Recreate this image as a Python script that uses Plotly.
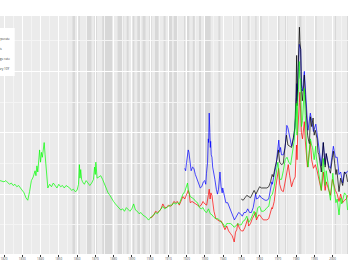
import plotly.graph_objects as go

# ---------------- data ----------------
treasury_years = [1817.8,1820,1821,1822,1823,1824,1825,1826,1827,1828,1829,1830,1831,1832,1833,1834,1835,1836,1837,1837.5,1838,1838.5,1839,1839.5,1840,1840.5,1841,1841.5,1842,1842.5,1843,1843.5,1844,1845,1846,1847,1848,1849,1850,1851,1852,1853,1854,1855,1856,1857,1858,1859,1860,1860.8,1861.3,1861.6,1862,1862.5,1863,1864,1865,1866,1867,1868,1869,1869.6,1870,1870.3,1870.8,1871,1872,1873,1874,1875,1876,1877,1878,1879,1880,1881,1882,1883,1884,1885,1886,1887,1888,1889,1890,1891,1892,1893,1894,1895,1896,1897,1898,1899,1900,1901,1902,1903,1904,1905,1906,1907,1908,1909,1910,1911,1912,1913,1914,1915,1916,1917,1918,1919,1920,1920.5,1921,1922,1923,1924,1925,1926,1927,1928,1929,1930,1931,1932,1933,1934,1935,1936,1937,1938,1939,1940,1941,1942,1943,1944,1945,1946,1947,1948,1949,1950,1951,1952,1953,1954,1955,1956,1957,1958,1959,1960,1961,1962,1963,1964,1965,1966,1967,1968,1969,1970,1971,1972,1973,1974,1975,1976,1977,1978,1979,1980.1,1980.5,1980.9,1981.3,1981.7,1982.0,1982.5,1982.9,1983.5,1984.5,1985,1986,1986.6,1987.8,1988.5,1989,1989.9,1990.7,1991,1992,1993.8,1994.9,1995.9,1996.5,1997,1998.8,1999.9,2000.1,2001,2001.8,2002.5,2003.5,2004.4,2005,2006.5,2007.5,2008.2]
treasury_vals = [6.1,6.0,6.1,5.9,5.8,5.9,5.7,5.8,5.6,5.7,5.5,5.4,5.1,4.7,4.5,5.2,6.1,6.4,6.9,6.5,7.3,6.8,8.0,8.6,7.6,8.4,8.0,8.8,9.2,8.2,7.0,6.0,5.5,5.8,5.6,5.9,5.7,5.5,5.8,5.6,5.7,5.5,5.7,5.6,5.5,5.3,5.4,5.2,5.3,5.8,7.4,6.3,7.0,6.2,6.0,5.8,6.1,5.9,5.7,5.9,6.2,7.2,6.6,7.6,6.7,6.3,6.4,6.5,6.2,5.8,5.4,5.1,4.9,4.6,4.4,4.2,4.0,3.8,3.7,3.8,3.6,3.9,3.7,3.6,3.8,4.2,3.7,3.6,3.4,3.5,3.3,3.2,3.1,2.9,3.0,3.2,3.3,3.5,3.4,3.6,3.8,4.0,3.8,3.9,4.0,4.1,4.1,4.3,4.2,4.3,4.2,4.6,5.0,5.2,5.7,5.9,5.3,4.8,4.7,4.6,4.4,4.3,3.9,3.8,3.9,3.6,3.5,3.8,3.4,3.3,3.1,3.0,3.0,2.9,2.7,2.6,2.3,2.6,2.6,2.6,2.5,2.3,2.4,2.6,2.5,2.5,2.8,2.9,3.2,2.7,2.9,3.2,3.6,3.1,3.9,4.0,3.6,3.6,3.7,3.9,4.0,4.8,5.0,5.6,6.7,7.6,6.2,6.2,6.9,7.8,8.0,7.6,7.4,8.4,9.4,12.4,9.8,12.8,13.5,15.8,14.5,14.3,10.5,11.0,13.6,11.4,7.8,7.2,9.5,9.0,8.8,7.8,8.9,8.1,7.0,5.3,7.9,5.7,6.9,6.4,4.5,6.3,6.7,5.2,4.3,4.6,3.3,4.7,4.2,5.1,4.9,3.7]

baa_years = [1919.0,1919.5,1920.0,1920.4,1920.9,1921.3,1921.9,1922.5,1923.3,1924.0,1924.8,1925.5,1926.5,1927.5,1928.3,1929.2,1929.9,1930.5,1930.9,1931.5,1931.9,1932.1,1932.4,1932.7,1933.0,1933.2,1933.5,1933.9,1934.3,1934.9,1935.5,1936.3,1936.9,1937.5,1937.9,1938.3,1938.9,1939.5,1939.8,1940.5,1941.5,1942.5,1943.5,1944.5,1945.5,1946.2,1947,1948.5,1949.5,1950.5,1951.5,1952.5,1953.5,1954.5,1955.5,1956.5,1957.8,1958.3,1959.5,1960.0,1961,1962,1963,1964,1965,1966.7,1967,1968,1968.5,1969,1969.9,1970.5,1971,1971.5,1972,1973,1974,1974.9,1975.5,1976,1976.9,1977.5,1978.5,1979.0,1979.8,1980.3,1980.5,1980.9,1981.2,1981.75,1982.0,1982.5,1982.9,1983.5,1984.5,1985,1985.9,1986.5,1987.8,1988.5,1989.5,1990.8,1991.5,1992.5,1993.8,1994.9,1995.9,1996.5,1997.9,1998.8,1999.9,2000.4,2001.5,2002.5,2003.5,2004.4,2005.5,2006.5,2007.5,2008.2]
baa_vals = [7.1,6.9,7.6,8.3,8.6,8.4,7.6,6.9,7.2,7.1,6.6,6.3,5.9,5.5,5.6,6.0,6.1,5.8,6.7,7.6,9.5,9.2,11.6,10.0,8.8,9.3,8.2,8.0,7.2,6.8,6.2,5.4,5.0,5.4,6.2,6.8,5.6,5.1,5.5,4.9,4.3,4.3,3.9,3.6,3.2,2.9,3.1,3.5,3.4,3.2,3.5,3.5,3.8,3.5,3.5,3.9,5.0,4.6,4.7,4.9,4.7,4.6,4.5,4.5,4.6,6.0,5.8,6.6,7.0,7.3,8.6,9.4,8.4,8.8,8.2,8.2,8.8,10.6,10.4,10.0,9.1,8.9,9.5,9.9,11.4,14.0,12.6,15.1,15.3,17.2,17.1,16.8,13.9,13.4,15.0,13.4,11.6,10.2,11.6,11.0,10.1,10.7,9.9,8.9,7.3,9.2,7.4,8.3,7.3,7.1,8.2,8.9,8.0,8.0,6.6,6.8,5.9,6.8,6.7,6.9]

muni_years = [1900,1901,1902,1903,1904,1905,1906,1907,1908,1909,1910,1911,1912,1913,1914,1915,1916,1917,1918,1919,1920,1920.9,1921.5,1922,1923,1924,1925,1926,1927,1928,1929,1930,1931,1931.9,1932.4,1932.9,1933.3,1933.9,1934.5,1935,1936,1937,1938,1939,1940,1941,1942,1943,1944,1945,1946.1,1946.8,1947.5,1948,1949,1950,1951,1952,1953.5,1954,1955,1956,1957.8,1958.3,1959.5,1960,1961,1962,1963,1964,1965,1966.7,1967,1968,1969,1969.9,1970.4,1971,1972,1973,1974.9,1975.7,1976.5,1977.5,1978.5,1979.5,1980.2,1980.5,1980.9,1981.5,1981.9,1982.1,1982.9,1983.5,1984.5,1985,1986.2,1986.5,1987.8,1988.5,1989.5,1990.5,1991.5,1992.5,1993.8,1994.9,1995.9,1996.5,1997.9,1998.8,1999.9,2000.5,2001.5,2002.5,2003.5,2004.4,2005.5,2006.5,2007.5,2008.2]
muni_vals = [3.1,3.1,3.3,3.6,3.5,3.6,3.8,4.2,3.9,3.9,4.1,4.0,4.1,4.4,4.3,4.4,4.1,4.5,4.8,4.6,5.0,5.3,5.0,4.3,4.4,4.3,4.2,4.1,4.0,4.1,4.4,4.2,4.1,4.9,5.4,4.6,5.1,4.9,4.0,3.6,3.0,2.9,2.8,2.8,2.5,2.1,2.4,2.0,1.8,1.6,1.1,1.9,2.1,2.6,2.2,2.0,2.0,2.3,3.0,2.4,2.6,3.0,3.5,2.9,3.3,3.3,3.1,2.9,2.9,2.9,3.0,3.9,3.8,4.4,5.7,6.9,7.1,5.8,5.3,5.2,7.0,7.4,6.5,5.6,6.1,6.4,9.0,7.8,10.1,11.8,13.0,13.3,10.0,9.5,10.9,9.4,7.2,7.5,9.3,7.8,7.1,7.4,6.9,6.3,5.3,6.8,5.3,6.0,5.2,4.9,6.2,5.8,5.3,5.0,4.4,5.0,4.3,4.5,4.6,4.9]

mortgage_years = [1949.9,1951,1952,1953,1954,1955,1956,1957,1958,1959,1960,1961,1962,1963,1964,1965,1966,1966.9,1967.5,1968.5,1969.5,1970.3,1971,1972,1973,1973.8,1974.7,1975.5,1976.5,1977.5,1978.5,1979.3,1979.9,1980.3,1980.5,1980.9,1981.3,1981.8,1982.1,1982.5,1982.9,1983.4,1983.9,1984.5,1985,1985.9,1986.3,1986.9,1987.3,1987.8,1988.5,1989.3,1989.9,1990.5,1991.5,1992,1992.5,1993.8,1994.9,1995.9,1996.5,1997.9,1998.8,1999.9,2000.4,2001.8,2002.3,2003.5,2004.4,2005.5,2006.5,2007.5,2008.2]
mortgage_vals = [4.6,4.5,4.7,4.9,4.8,4.7,5.0,5.3,5.0,5.3,5.6,5.5,5.5,5.5,5.5,5.6,6.0,6.6,6.4,7.2,7.8,8.6,7.6,7.4,7.5,8.7,9.8,9.0,8.9,8.8,9.6,10.4,12.9,16.3,12.2,14.9,15.5,18.6,17.4,16.8,13.6,12.6,13.4,14.7,13.1,10.8,9.8,9.3,9.1,11.3,10.5,11.2,9.8,10.2,9.5,8.4,8.2,6.8,9.2,7.2,8.3,7.1,6.7,8.0,8.5,6.6,7.0,5.2,6.3,5.7,6.8,6.6,6.0]

recession_start = [1857.5,1860.8,1865.3,1869.5,1873.8,1882.2,1887.2,1890.5,1893.0,1895.9,1899.5,1902.7,1907.4,1910.0,1913.0,1918.6,1920.0,1923.4,1926.8,1929.6,1937.4,1945.1,1948.9,1953.5,1957.6,1960.3,1969.9,1973.9,1980.0,1981.5,1990.5,2001.2,2007.9]
recession_end = [1858.9,1861.5,1867.9,1870.9,1879.2,1885.4,1888.3,1891.4,1894.5,1897.5,1900.9,1904.6,1908.5,1912.0,1914.9,1919.2,1921.5,1924.5,1927.9,1933.2,1938.5,1945.8,1949.8,1954.4,1958.3,1961.1,1970.9,1975.2,1980.5,1982.9,1991.2,2001.9,2009.5]

series_names = ["Baa corporate", "Munis", "Mortgage rate", "Treasury 10Y"]
series_colors = ["#0000FF", "#FF0000", "#000000", "#00FF00"]
tick_years = list(range(1820, 2001, 10))

# ---------------- figure ----------------
W, H = 348, 268
ML, MR, MT, MB = 0, 0, 16, 14
fig = go.Figure()
data = [(baa_years, baa_vals), (muni_years, muni_vals), (mortgage_years, mortgage_vals), (treasury_years, treasury_vals)]
for (xs, ys), name, col in zip(data, series_names, series_colors):
    fig.add_trace(go.Scatter(x=xs, y=ys, mode="lines", name=name,
                             line=dict(color=col, width=0.7), showlegend=False))

for s, e in zip(recession_start, recession_end):
    fig.add_shape(type="rect", xref="x", yref="paper", x0=s, x1=e, y0=0, y1=1,
                  fillcolor="rgba(0,0,0,0.08)", line=dict(width=0), layer="between")

# legend box (inside panel, cropped at left edge)
ph = H - MT - MB
def py(p):
    return (H - MB - p) / ph
fig.add_shape(type="rect", xref="paper", yref="paper", x0=-0.2, x1=14.7 / W,
              y0=py(76), y1=py(28), fillcolor="white", line=dict(width=0), layer="above")
legend_right = [12.3, 4.0, 12.0, 11.0]
legend_rows = [39, 49, 59, 69]
for name, xr, yr in zip(series_names, legend_right, legend_rows):
    fig.add_annotation(text=name, xref="paper", yref="paper", x=xr / W, y=py(yr),
                       xanchor="right", yanchor="middle", showarrow=False,
                       font=dict(size=3, color="#333333"))

x0 = 1817.8
fig.update_layout(
    width=W, height=H, margin=dict(l=ML, r=MR, t=MT, b=MB),
    paper_bgcolor="white", plot_bgcolor="#EBEBEB",
    xaxis=dict(range=[x0, x0 + W / 1.8256], tickvals=tick_years, ticktext=[str(t) for t in tick_years],
               showgrid=True, gridcolor="white", gridwidth=0.6,
               minor=dict(dtick=5, tick0=1815, showgrid=True, gridcolor="#F4F4F4", gridwidth=0.4),
               ticks="outside", ticklen=1.5, tickwidth=0.5, tickcolor="#333333",
               tickfont=dict(size=3, color="#4D4D4D"), zeroline=False, showline=False),
    yaxis=dict(range=[0.12, 19.51], tickvals=[0, 5, 10, 15], showticklabels=False,
               showgrid=True, gridcolor="white", gridwidth=0.6,
               minor=dict(dtick=2.5, tick0=0, showgrid=True, gridcolor="#F4F4F4", gridwidth=0.4),
               ticks="", zeroline=False, showline=False),
)
fig.write_html("out.html")
